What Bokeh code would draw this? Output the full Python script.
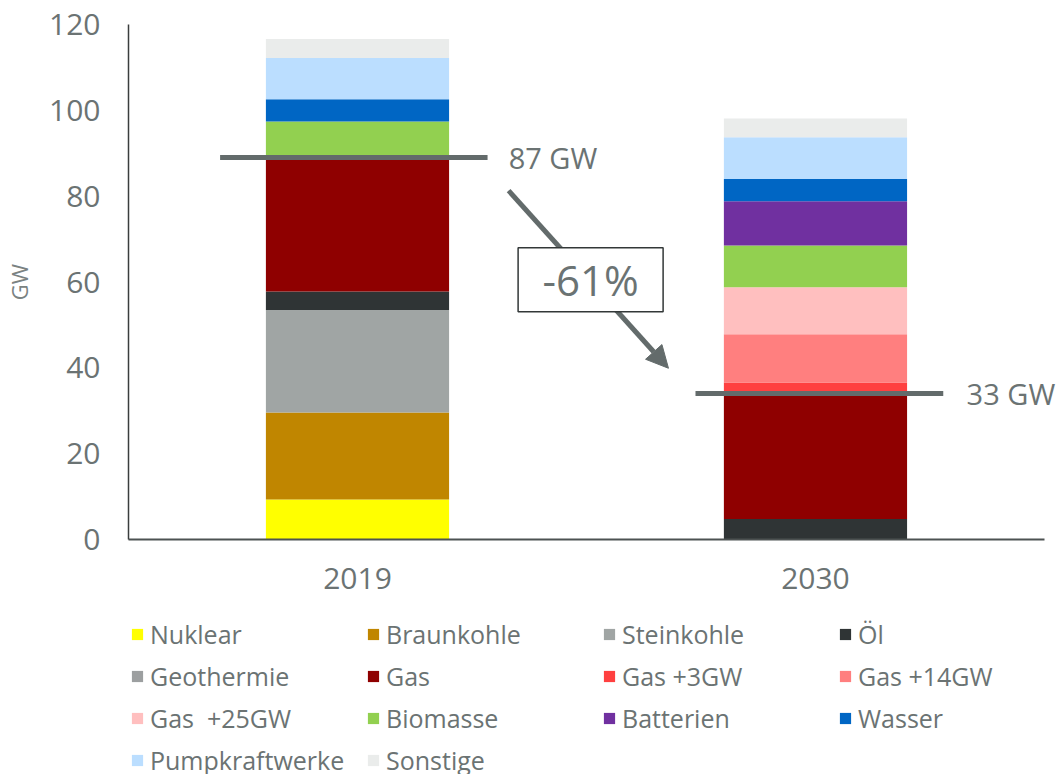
from bokeh.plotting import figure
from bokeh.layouts import column
from bokeh.models import (ColumnDataSource, Range1d, Legend, LegendItem,
                          Arrow, NormalHead, FixedTicker)
from bokeh.core.properties import value
from bokeh.embed import file_html
from bokeh.resources import INLINE

# ---------------- data ----------------
years = ["2019", "2030"]
sources = ["Nuklear", "Braunkohle", "Steinkohle", "Öl", "Geothermie", "Gas",
           "Gas +3GW", "Gas +14GW", "Gas  +25GW", "Biomasse", "Batterien",
           "Wasser", "Pumpkraftwerke", "Sonstige"]
colors = ["#FFFF00", "#C08600", "#A0A5A4", "#2F3435", "#9C9FA0", "#8F0000",
          "#FF4040", "#FF7F7F", "#FFBFBF", "#92D050", "#7030A0",
          "#0066C4", "#BBDEFF", "#EAECEB"]
values_2019 = [9.3, 20.3, 23.9, 4.3, 0.0, 31.4, 0.0, 0.0, 0.0, 8.2, 0.0, 5.2, 9.6, 4.4]
values_2030 = [0.0, 0.0, 0.0, 4.8, 0.0, 29.2, 2.6, 11.2, 11.0, 9.7, 10.3, 5.2, 9.7, 4.4]

y_ticks = [0, 20, 40, 60, 80, 100, 120]

ref_levels = [89.0, 34.0]
ref_labels = ["87 GW", "33 GW"]
change_label = "-61%"

TXT = "#6b7373"
DARK = "#636b6b"
FONT = "Open Sans"

# category positions on a numeric axis (one unit per category)
x_pos = [i + 0.5 for i in range(len(years))]

# ---------------- main figure ----------------
data = {"x": x_pos}
for name, a, b in zip(sources, values_2019, values_2030):
    data[name] = [a, b]
source = ColumnDataSource(data)

p = figure(width=1060, height=604, x_range=Range1d(0, 2.035), y_range=Range1d(0, 120),
           output_backend="svg", toolbar_location=None,
           min_border_left=128, min_border_right=0, min_border_top=24, min_border_bottom=65)
p.outline_line_color = None
p.xgrid.visible = False
p.ygrid.visible = False

p.vbar_stack(sources, x="x", width=0.4, color=colors, source=source, line_color=None)

# axes
p.yaxis.ticker = FixedTicker(ticks=y_ticks)
p.yaxis.major_tick_line_color = None
p.yaxis.minor_tick_line_color = None
p.yaxis.axis_line_color = "#3a3d3d"
p.yaxis.axis_line_width = 1.5
p.yaxis.major_label_text_font = FONT
p.yaxis.major_label_text_font_size = "30px"
p.yaxis.major_label_text_color = TXT
p.yaxis.major_label_standoff = 22
p.yaxis.axis_label = "GW"
p.yaxis.axis_label_text_font = FONT
p.yaxis.axis_label_text_font_size = "22px"
p.yaxis.axis_label_text_font_style = "normal"
p.yaxis.axis_label_text_color = "#7a8282"
p.yaxis.axis_label_standoff = 12

p.xaxis.ticker = FixedTicker(ticks=x_pos)
p.xaxis.major_label_overrides = {x: y for x, y in zip(x_pos, years)}
p.xaxis.bounds = (0, len(years))
p.xaxis.major_tick_line_color = None
p.xaxis.minor_tick_line_color = None
p.xaxis.axis_line_color = "#4d5252"
p.xaxis.axis_line_width = 2
p.xaxis.major_label_text_font = FONT
p.xaxis.major_label_text_font_size = "30px"
p.xaxis.major_label_text_color = TXT
p.xaxis.major_label_standoff = 22

# arrow (behind the box)
arrow = Arrow(x_start=0.83, y_start=81.3, x_end=1.179, y_end=39.9,
              line_width=5, line_color=DARK, level="underlay",
              end=NormalHead(size=22, fill_color=DARK, line_color=DARK))
p.add_layout(arrow)

# reference lines and labels
p.segment(x0=[0.2, 1.238], x1=[0.784, 1.779], y0=ref_levels, y1=ref_levels,
          line_width=5, line_color=DARK)
p.text(x=[0.83, 1.83], y=ref_levels, text=ref_labels, text_font=value(FONT),
       text_font_size="29px", text_color=TXT, text_baseline="middle", text_align="left")

# change box
p.rect(x=[1.009], y=[60.5], width=145, height=64, width_units="screen", height_units="screen",
       fill_color="white", line_color="#333838", line_width=1.5)
p.text(x=[1.009], y=[60.5], text=[change_label], text_font=value(FONT),
       text_font_size="42px", text_color=TXT, text_baseline="middle", text_align="center")

# ---------------- legend strip ----------------
lf = figure(width=1060, height=170, x_range=Range1d(0, 2.035), y_range=Range1d(1000, 1001),
            output_backend="svg", toolbar_location=None,
            x_axis_location=None, y_axis_location=None,
            min_border_left=0, min_border_right=0, min_border_top=0, min_border_bottom=0)
lf.outline_line_color = None
lf.xgrid.visible = False
lf.ygrid.visible = False
leg_renderers = lf.vbar_stack(sources, x="x", width=0.4, color=colors, source=source,
                              line_color=None)

items = [LegendItem(label=name, renderers=[r]) for name, r in zip(sources, leg_renderers)]
legend = Legend(items=items, orientation="horizontal", ncols=4, location=(2, -3),
                glyph_width=14, glyph_height=14, label_standoff=6, label_width=208,
                label_height=30, spacing=8, padding=0, margin=0,
                border_line_color=None, background_fill_alpha=0,
                label_text_font=FONT, label_text_font_size="25px", label_text_color=TXT)
lf.add_layout(legend, "center")

layout = column(p, lf, spacing=0)
open("out.html", "w").write(file_html(layout, INLINE))
